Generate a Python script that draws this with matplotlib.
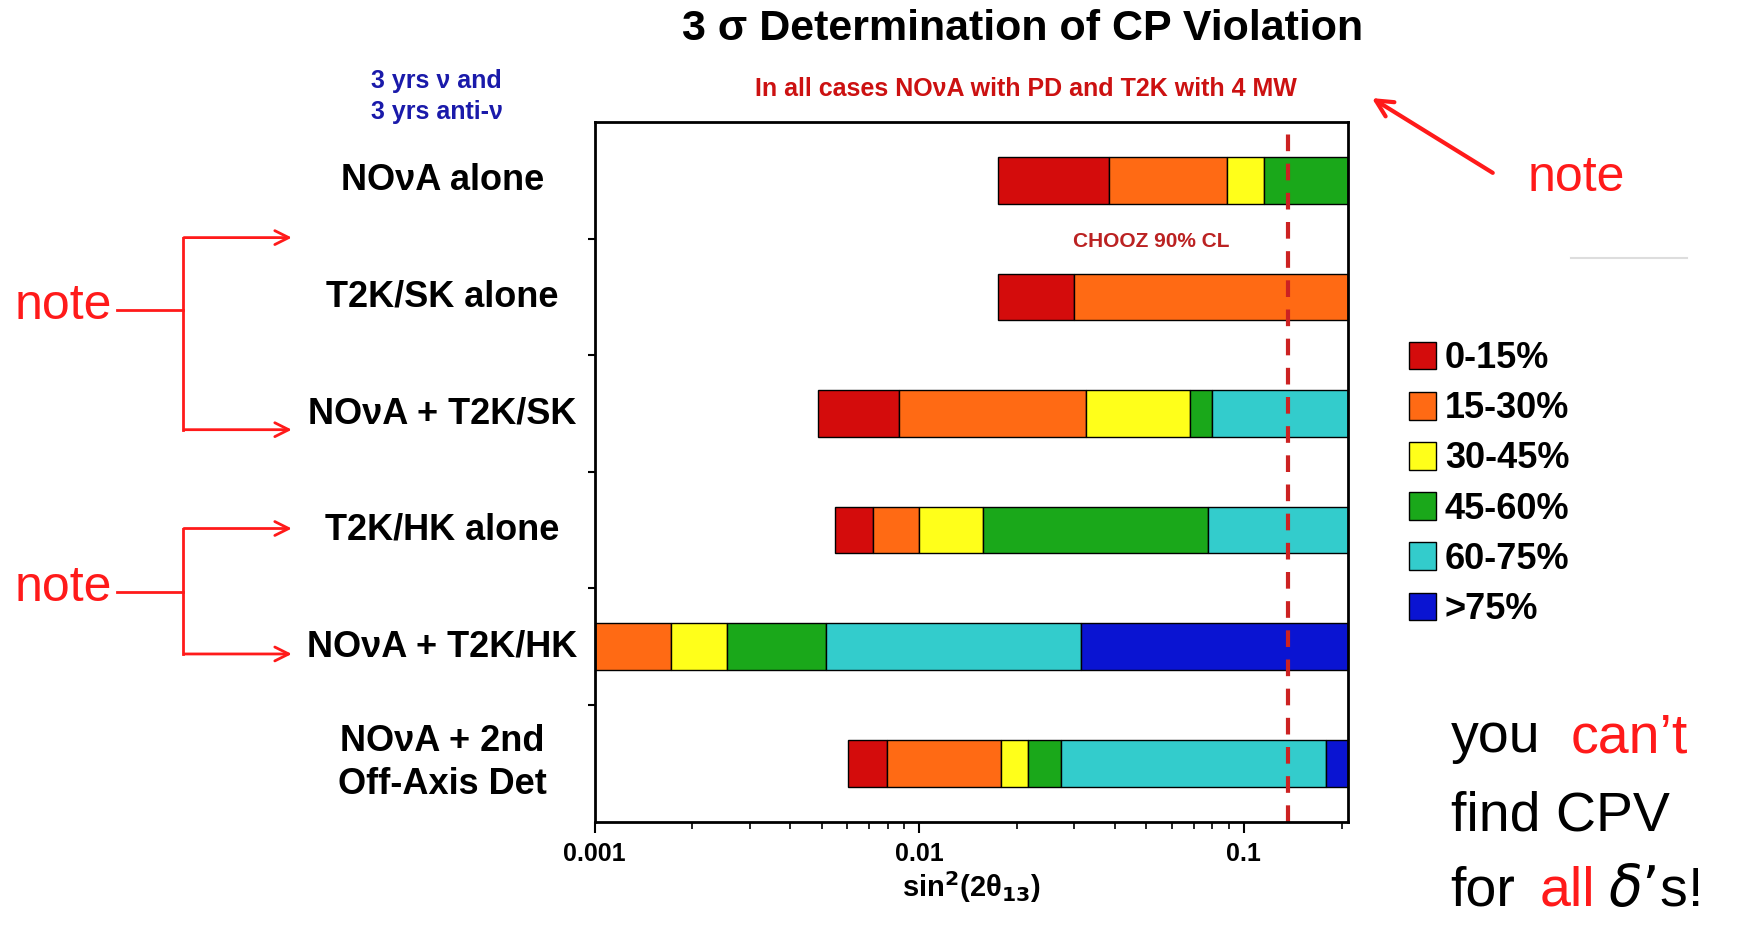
import matplotlib.pyplot as plt
import numpy as np

plt.rcParams['font.family'] = ['Liberation Sans', 'DejaVu Sans']

rows = ["NO\u03bdA alone", "T2K/SK alone", "NO\u03bdA + T2K/SK", "T2K/HK alone",
        "NO\u03bdA + T2K/HK", "NO\u03bdA + 2nd\nOff-Axis Det"]
# segment edges (sin^2 2theta13) and the colour class of each segment
edges = [
    [0.0175, 0.0385, 0.0889, 0.115, 0.21],
    [0.0175, 0.0299, 0.21],
    [0.00488, 0.00867, 0.0326, 0.0685, 0.0796, 0.21],
    [0.0055, 0.00718, 0.01, 0.0157, 0.0777, 0.213],
    [0.001, 0.00172, 0.00256, 0.00515, 0.0316, 0.213],
    [0.00604, 0.00796, 0.0179, 0.0217, 0.0274, 0.179, 0.213],
]
classes = [
    [0, 1, 2, 3],
    [0, 1],
    [0, 1, 2, 3, 4],
    [0, 1, 2, 3, 4],
    [1, 2, 3, 4, 5],
    [0, 1, 2, 3, 4, 5],
]
legend_labels = ["0-15%", "15-30%", "30-45%", "45-60%", "60-75%", ">75%"]
colors = ["#d40c0c", "#ff6a14", "#ffff1a", "#1aa81a", "#33cccc", "#0a14d2"]
chooz = 0.137

W, H = 1568, 834
fig = plt.figure(figsize=(17.43, 9.26), dpi=100)
ax = fig.add_axes([535 / W, 1 - 740 / H, 678 / W, 630 / H])
ax.set_xscale("log")
ax.set_xlim(0.001, 0.21)
ax.set_ylim(5.5, -0.5)

for i, (e, c) in enumerate(zip(edges, classes)):
    for k, cl in enumerate(c):
        ax.barh(i, e[k + 1] - e[k], left=e[k], height=0.4, color=colors[cl],
                edgecolor="black", linewidth=1)
ax.axvline(chooz, color="#cc2222", ls=(0, (4, 3)), lw=3)
ax.text(0.052, 0.52, "CHOOZ 90% CL", color="#bb2222", fontsize=15, fontweight="bold",
        ha="center", va="center")

ax.set_yticks(np.arange(0.5, 5.5, 1.0))
ax.set_yticklabels([])
ax.tick_params(axis="y", length=5, width=1.5)
ax.set_xticks([0.001, 0.01, 0.1])
ax.set_xticklabels(["0.001", "0.01", "0.1"], fontweight="bold", fontsize=18)
ax.tick_params(axis="x", which="major", length=8, width=1.5, pad=7)
ax.tick_params(axis="x", which="minor", length=5, width=1.2)
for s in ax.spines.values():
    s.set_linewidth(2)
ax.set_xlabel("sin$^\\mathbf{2}$(2\u03b8$_\\mathbf{13}$)", fontsize=21, fontweight="bold", labelpad=2)

row_tf = ax.get_yaxis_transform().__class__(fig.transFigure, ax.transData)
for i, r in enumerate(rows):
    ax.text(398 / W, i, r, transform=row_tf, ha="center", va="center", fontsize=26,
            fontweight="bold", multialignment="center", linespacing=1.3)

handles = [plt.Rectangle((0, 0), 1, 1, fc=c, ec="black") for c in colors]
fig.legend(handles, legend_labels, loc="upper left", bbox_to_anchor=(1238 / W, 1 - 278 / H),
           frameon=False, prop={"weight": "bold", "size": 26}, handlelength=0.75,
           handleheight=0.8, handletextpad=0.25, labelspacing=0.42)

fig.text(920 / W, 1 - 26 / H, "3 \u03c3 Determination of CP Violation", ha="center", va="center",
         fontsize=31, fontweight="bold")
fig.text(923 / W, 1 - 80 / H, "In all cases NO\u03bdA with PD and T2K with 4 MW", ha="center",
         va="center", fontsize=18, fontweight="bold", color="#cc1111")
fig.text(393 / W, 1 - 87 / H, "3 yrs \u03bd and\n3 yrs anti-\u03bd", ha="center", va="center",
         fontsize=18, fontweight="bold", color="#1a1aaa", linespacing=1.4)

red = "#ff1a1a"
fig.add_artist(plt.Line2D([1413 / W, 1518 / W], [1 - 232 / H, 1 - 232 / H], color="#dddddd", lw=1.5))
ax_f = fig.add_axes([0, 0, 1, 1], facecolor="none")
ax_f.set_xlim(0, W)
ax_f.set_ylim(H, 0)
ax_f.axis("off")
ax_f.text(1418, 160, "note", fontsize=36, color=red, ha="center", va="center")
ax_f.annotate("", xy=(1232, 87), xytext=(1345, 157),
              arrowprops=dict(arrowstyle="->", color=red, lw=3, mutation_scale=30))
for ytop, ybot, ymid in [(214, 387, 276), (476, 589, 530)]:
    ax_f.text(57, ymid, "note", fontsize=36, color=red, ha="center", va="center")
    ax_f.plot([105, 165], [ymid + 3, ymid + 3], color=red, lw=2)
    ax_f.plot([165, 165], [ytop, ybot], color=red, lw=2)
    ax_f.annotate("", xy=(265, ytop), xytext=(163, ytop),
                  arrowprops=dict(arrowstyle="->", color=red, lw=2, mutation_scale=25))
    ax_f.annotate("", xy=(265, ybot), xytext=(163, ybot),
                  arrowprops=dict(arrowstyle="->", color=red, lw=2, mutation_scale=25))

fs = 40
ax_f.text(1305, 665, "you", fontsize=fs, va="center", ha="left")
ax_f.text(1413, 665, "can\u2019t", fontsize=fs, va="center", ha="left", color=red)
ax_f.text(1305, 735, "find CPV", fontsize=fs, va="center", ha="left")
ax_f.text(1305, 803, "for", fontsize=fs, va="center", ha="left")
ax_f.text(1385, 803, "all", fontsize=fs, va="center", ha="left", color=red)
ax_f.text(1447, 803, "$\\delta$\u2019s!", fontsize=fs, va="center", ha="left")

fig.savefig("out.png", dpi=100)
